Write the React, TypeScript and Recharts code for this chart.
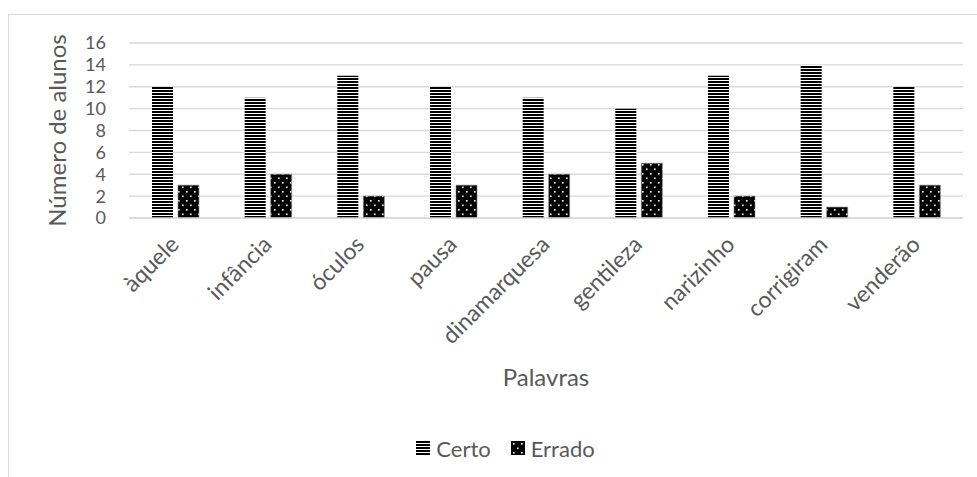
import { BarChart, Bar, XAxis, YAxis, CartesianGrid, Legend } from "recharts";

const palavras = [
  "àquele",
  "infância",
  "óculos",
  "pausa",
  "dinamarquesa",
  "gentileza",
  "narizinho",
  "corrigiram",
  "venderão",
];
const certo = [12, 11, 13, 12, 11, 10, 13, 14, 12];
const errado = [3, 4, 2, 3, 4, 5, 2, 1, 3];
const yTicks = [0, 2, 4, 6, 8, 10, 12, 14, 16];

const data = palavras.map((p, i) => ({ palavra: p, Certo: certo[i], Errado: errado[i] }));

const FONT = "Lato, 'Open Sans', sans-serif";
const GREY = "#595959";
const GRID = "#d9d9d9";

function Patterns({ suffix = "" }: { suffix?: string }) {
  return (
    <defs>
      <pattern id={`stripes${suffix}`} width="6" height="3" patternUnits="userSpaceOnUse">
        <rect width="6" height="3" fill="#fff" />
        <rect width="6" height="2" fill="#000" />
      </pattern>
      <pattern id={`dots${suffix}`} width="8" height="9" patternUnits="userSpaceOnUse">
        <rect width="8" height="9" fill="#000" />
        <rect x="2" y="2" width="1.6" height="1.6" fill="#fff" />
        <rect x="6" y="6.5" width="1.6" height="1.6" fill="#fff" />
      </pattern>
    </defs>
  );
}

// category labels slanted at 45°, right end sitting just under the group
function WordTick({ x, y, payload }: any) {
  const ax = x + 5;
  const ay = y + 28;
  return (
    <text
      x={ax}
      y={ay}
      transform={`rotate(-45, ${ax}, ${ay})`}
      textAnchor="end"
      fill={GREY}
      fontSize={23}
      fontFamily={FONT}
    >
      {payload.value}
    </text>
  );
}

function YTitle({ viewBox }: any) {
  const cx = 56;
  const cy = viewBox.y + viewBox.height / 2;
  return (
    <text
      x={cx}
      y={cy}
      transform={`rotate(-90, ${cx}, ${cy})`}
      textAnchor="middle"
      dominantBaseline="central"
      fill={GREY}
      fontSize={24}
      fontFamily={FONT}
    >
      Número de alunos
    </text>
  );
}

function LegendBox() {
  const item = (fill: string, label: string) => (
    <span style={{ display: "inline-flex", alignItems: "center", margin: "0 10px" }}>
      <svg width="14" height="14" style={{ marginRight: 6 }}>
        <Patterns suffix="-lg" />
        <rect width="14" height="14" fill={fill} />
      </svg>
      <span>{label}</span>
    </span>
  );
  return (
    <div
      style={{
        display: "flex",
        justifyContent: "center",
        alignItems: "center",
        height: 24,
        paddingLeft: 48,
        fontFamily: FONT,
        fontSize: 22,
        color: GREY,
      }}
    >
      {item("url(#stripes-lg)", "Certo")}
      {item("url(#dots-lg)", "Errado")}
    </div>
  );
}

export default function App() {
  return (
    <div
      style={{
        position: "absolute",
        left: 0,
        top: 0,
        width: 977,
        height: 477,
        background: "#fff",
        overflow: "hidden",
      }}
    >
      <div
        style={{
          position: "absolute",
          left: 8,
          top: 14,
          width: 1000,
          height: 500,
          border: `1.5px solid ${GRID}`,
        }}
      />
      <div style={{ position: "absolute", left: 0, top: 0 }}>
        <BarChart
          width={977}
          height={477}
          data={data}
          margin={{ top: 43, right: 14, left: 0, bottom: 17 }}
          barSize={21}
          barGap={5}
        >
          <Patterns />
          <CartesianGrid vertical={false} stroke={GRID} strokeWidth={1.3} />
          <XAxis
            dataKey="palavra"
            height={218}
            tickLine={false}
            axisLine={{ stroke: GRID, strokeWidth: 1.3 }}
            tickSize={0}
            tickMargin={0}
            interval={0}
            tick={<WordTick />}
            label={{
              value: "Palavras",
              position: "insideBottom",
              offset: 50,
              fill: GREY,
              fontSize: 24,
              fontFamily: FONT,
            }}
          />
          <YAxis
            width={129}
            domain={[0, 16]}
            ticks={yTicks}
            interval={0}
            tickLine={false}
            axisLine={false}
            tickSize={0}
            tickMargin={23}
            tick={{ fill: GREY, fontSize: 18, fontFamily: FONT }}
            label={<YTitle />}
          />
          <Legend verticalAlign="bottom" content={() => <LegendBox />} wrapperStyle={{ height: 24 }} />
          <Bar dataKey="Certo" fill="url(#stripes)" isAnimationActive={false} />
          <Bar dataKey="Errado" fill="url(#dots)" stroke="#808080" strokeWidth={0.6} isAnimationActive={false} />
        </BarChart>
      </div>
    </div>
  );
}
